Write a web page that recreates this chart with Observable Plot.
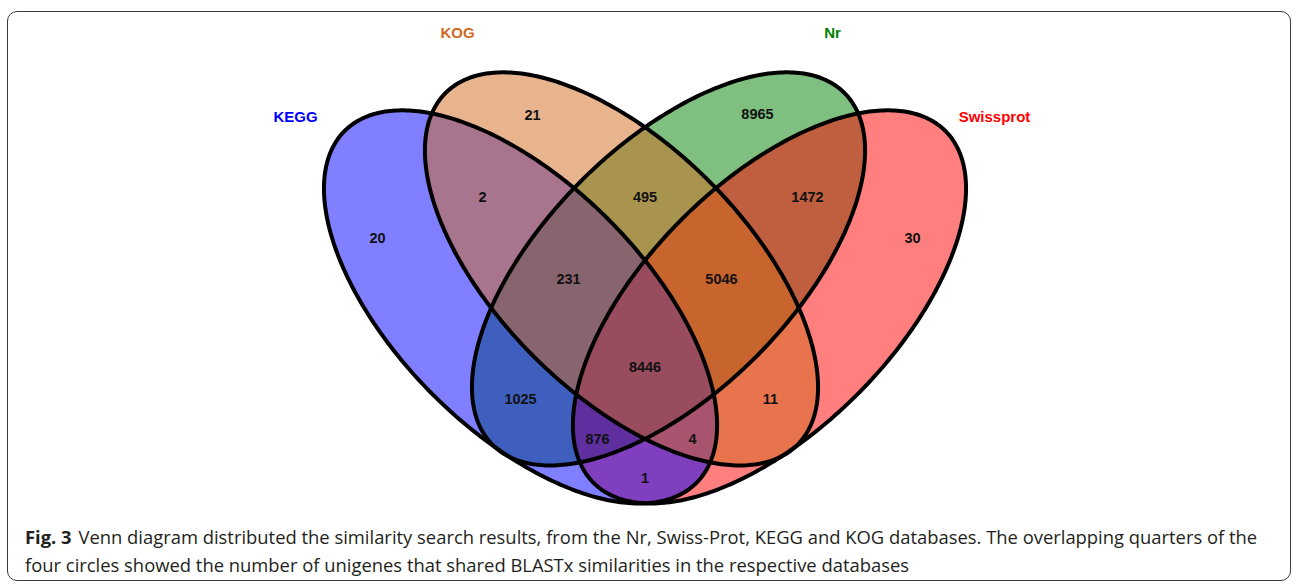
<!DOCTYPE html>
<html>
<head>
<meta charset="utf-8">
<script src="https://cdn.jsdelivr.net/npm/d3@7"></script>
<script src="https://cdn.jsdelivr.net/npm/@observablehq/plot@0.6"></script>
<style>
  html, body { margin: 0; padding: 0; background: #fff; }
  body { width: 1296px; height: 584px; position: relative; overflow: hidden; }
  #frame { position: absolute; left: 7px; top: 11px; width: 1282px; height: 568px;
           border: 1.5px solid #3a3a3a; border-radius: 10px; }
  #chart { position: absolute; left: 0; top: 12px; }
  #caption { position: absolute; left: 25px; top: 523px; width: 1260px; white-space: nowrap;
             font-family: "Open Sans", sans-serif; font-size: 18.4px; line-height: 28px; color: #231f20; }
  #caption b { font-weight: 700; margin-right: 2px; }
</style>
</head>
<body>
<div id="frame"></div>
<div id="chart"></div>
<div id="caption"><b>Fig. 3</b> Venn diagram distributed the similarity search results, from the Nr, Swiss-Prot, KEGG and KOG databases. The overlapping quarters of the<br>four circles showed the number of unigenes that shared BLASTx similarities in the respective databases</div>
<script>
// Sets (ellipses) in diagram units
const sets = ["KEGG", "KOG", "Nr", "Swissprot"];
const setColors = ["#0000FF", "#D2691E", "#008000", "#FF0000"];
const setCx = [0.3444, 0.4706, 0.5294, 0.6556];
const setCy = [0.257, 0.3045, 0.3045, 0.257];
const setAngle = [-45, -45, 45, 45];
const semiMajor = 0.311;
const semiMinor = 0.155;
const drawOrder = ["Nr", "Swissprot", "KEGG", "KOG"];

// Set name labels
const labelX = [0.0631, 0.2656, 0.7344, 0.9369];
const labelY = [0.4938, 0.5988, 0.5988, 0.4938];

// Region counts and label positions
const regionCounts = [20, 21, 8965, 30, 2, 495, 1472, 231, 5046, 1025, 8446, 11, 876, 4, 1];
const regionX = [0.1656, 0.3594, 0.6406, 0.8344, 0.2969, 0.5, 0.7031, 0.4044, 0.5956, 0.3444, 0.5, 0.6569, 0.4406, 0.5594, 0.5];
const regionY = [0.3425, 0.4963, 0.4975, 0.3425, 0.3938, 0.3938, 0.3938, 0.2913, 0.2913, 0.1413, 0.1813, 0.1413, 0.0913, 0.0913, 0.0425];

function ellipsePoints(i) {
  const th = setAngle[i] * Math.PI / 180;
  const pts = [];
  for (let k = 0; k < 360; k += 1) {
    const t = k * Math.PI / 180;
    const ex = semiMajor * Math.cos(t), ey = semiMinor * Math.sin(t);
    pts.push({
      set: sets[i],
      x: setCx[i] + ex * Math.cos(th) - ey * Math.sin(th),
      y: setCy[i] + ex * Math.sin(th) + ey * Math.cos(th)
    });
  }
  return pts;
}

const fillMarks = drawOrder.map(name => {
  const i = sets.indexOf(name);
  return Plot.line(ellipsePoints(i), {x: "x", y: "y", curve: "linear-closed", fill: setColors[i], fillOpacity: 0.5, stroke: "none"});
});
const strokeMarks = drawOrder.map(name => {
  const i = sets.indexOf(name);
  return Plot.line(ellipsePoints(i), {x: "x", y: "y", curve: "linear-closed", fill: "none", stroke: "#000", strokeWidth: 4});
});

const labels = sets.map((s, i) => ({name: s, x: labelX[i], y: labelY[i], color: setColors[i]}));
const regions = regionCounts.map((c, i) => ({count: String(c), x: regionX[i], y: regionY[i]}));

const chart = Plot.plot({
  width: 1296,
  height: 500,
  margin: 0,
  x: {domain: [0, 1], range: [244.5, 1044.5], axis: null},
  y: {domain: [0, 0.625], range: [500, 0], axis: null},
  style: {background: "transparent"},
  marks: [
    ...fillMarks,
    ...strokeMarks,
    Plot.text(regions, {x: "x", y: "y", text: "count", fill: "#111", fontSize: 14.5, fontWeight: "bold", fontFamily: "Liberation Sans, Arial, sans-serif"}),
    Plot.text(labels, {x: "x", y: "y", text: "name", fill: d => d.color, fontSize: 15, fontWeight: "bold", fontFamily: "Liberation Sans, Arial, sans-serif"})
  ]
});
document.getElementById("chart").appendChild(chart);
</script>
</body>
</html>
